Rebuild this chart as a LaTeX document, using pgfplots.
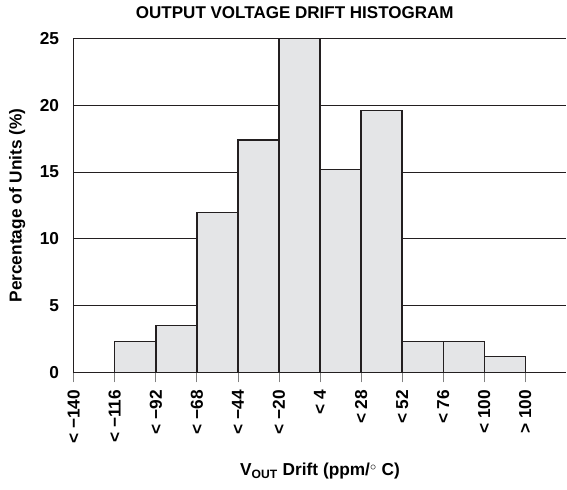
\documentclass[border={3.6pt 4pt 0pt 2pt}]{standalone}
\usepackage{pgfplots}
\pgfplotsset{compat=1.18}
\usepackage{fontspec}
\setmainfont{Liberation Sans}
\definecolor{barfill}{HTML}{E4E5E7}
\definecolor{ink}{HTML}{231F20}
\begin{document}
\begin{tikzpicture}
\begin{axis}[
  scale only axis,
  width=370.5pt, height=251.25pt,
  xmin=0, xmax=12, ymin=0, ymax=25,
  axis lines*=left,
  axis line style={ink, line width=1pt},
  ytick={0,5,...,25},
  xtick={0,...,11},
  xticklabels={< −140, < −116, < −92, < −68, < −44, < −20, < 4, < 28, < 52, < 76, < 100, > 100},
  ymajorgrids,
  grid style={ink, line width=0.8pt},
  ytick style={draw=none},
  xtick style={gray, line width=0.6pt},
  tick align=outside,
  major tick length=7.5pt,
  /pgf/number format/assume math mode=true,
  tick label style={font=\fontsize{13}{15}\selectfont\bfseries},
  label style={font=\fontsize{13}{15}\selectfont\bfseries},
  title style={font=\fontsize{12.8}{14}\selectfont\bfseries, yshift=5pt, xshift=-19pt},
  xticklabel style={rotate=90, anchor=east},
  xticklabel shift=2pt,
  ylabel shift=4pt,
  xlabel style={yshift=-8pt},
  title={OUTPUT VOLTAGE DRIFT HISTOGRAM},
  xlabel={V\textsubscript{OUT} Drift (ppm/$^{\circ}$ C)},
  ylabel={Percentage of Units (\%)},
]
\addplot[ybar, bar width=1, bar shift=0, fill=barfill, draw=ink, line width=1pt] table {
x y
1.5 2.3
2.5 3.5
3.5 12.0
4.5 17.4
5.5 25.0
6.5 15.2
7.5 19.6
8.5 2.3
9.5 2.3
10.5 1.2
};
\end{axis}
\end{tikzpicture}
\end{document}
